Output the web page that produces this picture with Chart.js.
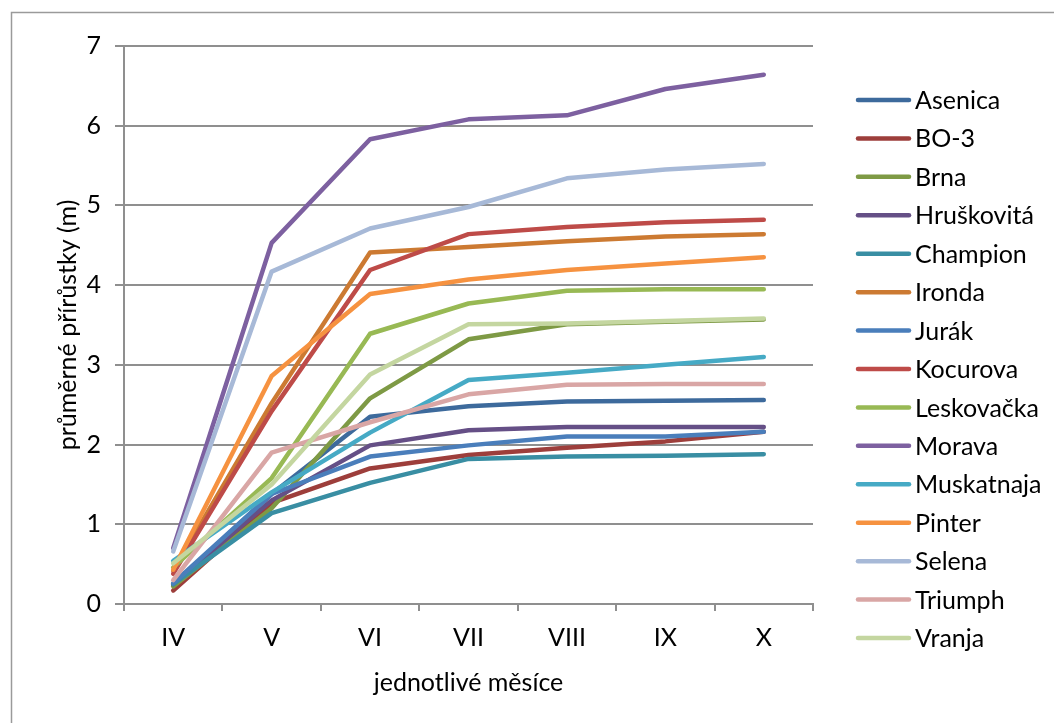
<!DOCTYPE html>
<html>
<head>
<meta charset="utf-8">
<script src="https://cdn.jsdelivr.net/npm/chart.js@4.4.1/dist/chart.umd.min.js"></script>
<style>
  html, body { margin: 0; padding: 0; background: #ffffff; }
  #wrap { width: 1054px; height: 723px; position: relative; }
</style>
</head>
<body>
<div id="wrap"><canvas id="chart" width="1054" height="723"></canvas></div>
<script>
// Months of the growing season (Roman numerals)
const months = ['IV', 'V', 'VI', 'VII', 'VIII', 'IX', 'X'];

// Average cumulative growth per cultivar (m)
const asenica    = [0.24, 1.38, 2.35, 2.48, 2.54, 2.55, 2.56];
const bo3        = [0.17, 1.27, 1.70, 1.87, 1.96, 2.04, 2.16];
const brna       = [0.22, 1.20, 2.58, 3.32, 3.51, 3.54, 3.57];
const hruskovita = [0.25, 1.30, 1.99, 2.18, 2.22, 2.22, 2.22];
const champion   = [0.25, 1.14, 1.52, 1.82, 1.85, 1.86, 1.88];
const ironda     = [0.42, 2.52, 4.41, 4.48, 4.55, 4.61, 4.64];
const jurak      = [0.26, 1.38, 1.85, 1.99, 2.10, 2.10, 2.16];
const kocurova   = [0.38, 2.42, 4.19, 4.64, 4.73, 4.79, 4.82];
const leskovacka = [0.46, 1.58, 3.39, 3.77, 3.93, 3.95, 3.95];
const morava     = [0.70, 4.53, 5.83, 6.08, 6.13, 6.46, 6.64];
const muskatnaja = [0.54, 1.40, 2.15, 2.81, 2.90, 3.00, 3.10];
const pinter     = [0.43, 2.86, 3.89, 4.07, 4.19, 4.27, 4.35];
const selena     = [0.66, 4.17, 4.71, 4.98, 5.34, 5.45, 5.52];
const triumph    = [0.30, 1.90, 2.28, 2.63, 2.75, 2.76, 2.76];
const vranja     = [0.51, 1.50, 2.88, 3.51, 3.52, 3.55, 3.58];

const seriesNames = ['Asenica', 'BO-3', 'Brna', 'Hruškovitá', 'Champion', 'Ironda', 'Jurák',
  'Kocurova', 'Leskovačka', 'Morava', 'Muskatnaja', 'Pinter', 'Selena', 'Triumph', 'Vranja'];
const seriesValues = [asenica, bo3, brna, hruskovita, champion, ironda, jurak,
  kocurova, leskovacka, morava, muskatnaja, pinter, selena, triumph, vranja];
const seriesColors = ['#3D6A9C', '#9D3E3B', '#7E9A45', '#654F86', '#398EA3', '#CC7A32', '#4A7EBB',
  '#BE4B48', '#98B954', '#7D60A0', '#46AAC5', '#F69240', '#A7B9D7', '#D9A6A5', '#C4D6A0'];

// Y-axis range and step
const yMin = 0, yMax = 7, yStep = 1;

const FONT = 'Lato, "Open Sans", sans-serif';
const FONT_SIZE = 25;
const GRID = '#8f8f8f';

const frame = {
  id: 'frame',
  beforeDraw(chart) {
    const ctx = chart.ctx;
    ctx.save();
    ctx.fillStyle = '#ffffff';
    ctx.fillRect(0, 0, chart.width, chart.height);
    ctx.strokeStyle = '#9a9a9a';
    ctx.lineWidth = 1.5;
    ctx.strokeRect(11.5, 12.5, 1200, 900);
    ctx.restore();
  }
};

// Legend on the right: a line sample followed by the series name
const sideLegend = {
  id: 'sideLegend',
  afterDraw(chart) {
    const ctx = chart.ctx;
    ctx.save();
    ctx.font = FONT_SIZE + 'px ' + FONT;
    ctx.textBaseline = 'middle';
    ctx.textAlign = 'left';
    chart.data.datasets.forEach((ds, i) => {
      const y = 100 + i * 38.43;
      ctx.strokeStyle = ds.borderColor;
      ctx.lineWidth = 4.5;
      ctx.lineCap = 'round';
      ctx.beginPath();
      ctx.moveTo(858, y);
      ctx.lineTo(909, y);
      ctx.stroke();
      ctx.fillStyle = '#000000';
      ctx.fillText(ds.label, 915, y + 1);
    });
    ctx.restore();
  }
};

const n = seriesNames.length;
const datasets = seriesNames.map((name, i) => ({
  label: name,
  data: seriesValues[i],
  borderColor: seriesColors[i],
  backgroundColor: seriesColors[i],
  borderWidth: 4.5,
  pointRadius: 0,
  pointHoverRadius: 0,
  tension: 0,
  fill: false,
  borderCapStyle: 'round',
  borderJoinStyle: 'round',
  order: n - i
}));

new Chart(document.getElementById('chart'), {
  type: 'line',
  data: { labels: months, datasets },
  options: {
    responsive: false,
    animation: false,
    devicePixelRatio: 1,
    layout: { padding: { left: 0, top: 46, right: 241, bottom: 0 } },
    plugins: {
      legend: { display: false },
      tooltip: { enabled: false }
    },
    scales: {
      x: {
        type: 'category',
        offset: true,
        grid: { offset: true, drawOnChartArea: false, drawTicks: true, tickLength: 7, color: GRID, lineWidth: 2 },
        border: { display: true, color: GRID, width: 2 },
        ticks: { color: '#000000', font: { family: FONT, size: FONT_SIZE }, padding: 12, maxRotation: 0 },
        title: { display: true, text: 'jednotlivé měsíce', color: '#000000',
                 font: { family: FONT, size: FONT_SIZE }, padding: { top: 0, bottom: 25 } },
        afterFit(scale) { scale.height = 119; }
      },
      y: {
        min: yMin,
        max: yMax,
        grid: { color: GRID, lineWidth: 2, tickLength: 9 },
        border: { display: true, color: GRID, width: 2 },
        ticks: { stepSize: yStep, color: '#000000', font: { family: FONT, size: FONT_SIZE }, padding: 14 },
        title: { display: true, text: 'průměrné přírůstky (m)', color: '#000000',
                 font: { family: FONT, size: FONT_SIZE }, padding: { top: 53, bottom: 0 } },
        afterFit(scale) { scale.width = 124; }
      }
    }
  },
  plugins: [frame, sideLegend]
});
</script>
</body>
</html>
